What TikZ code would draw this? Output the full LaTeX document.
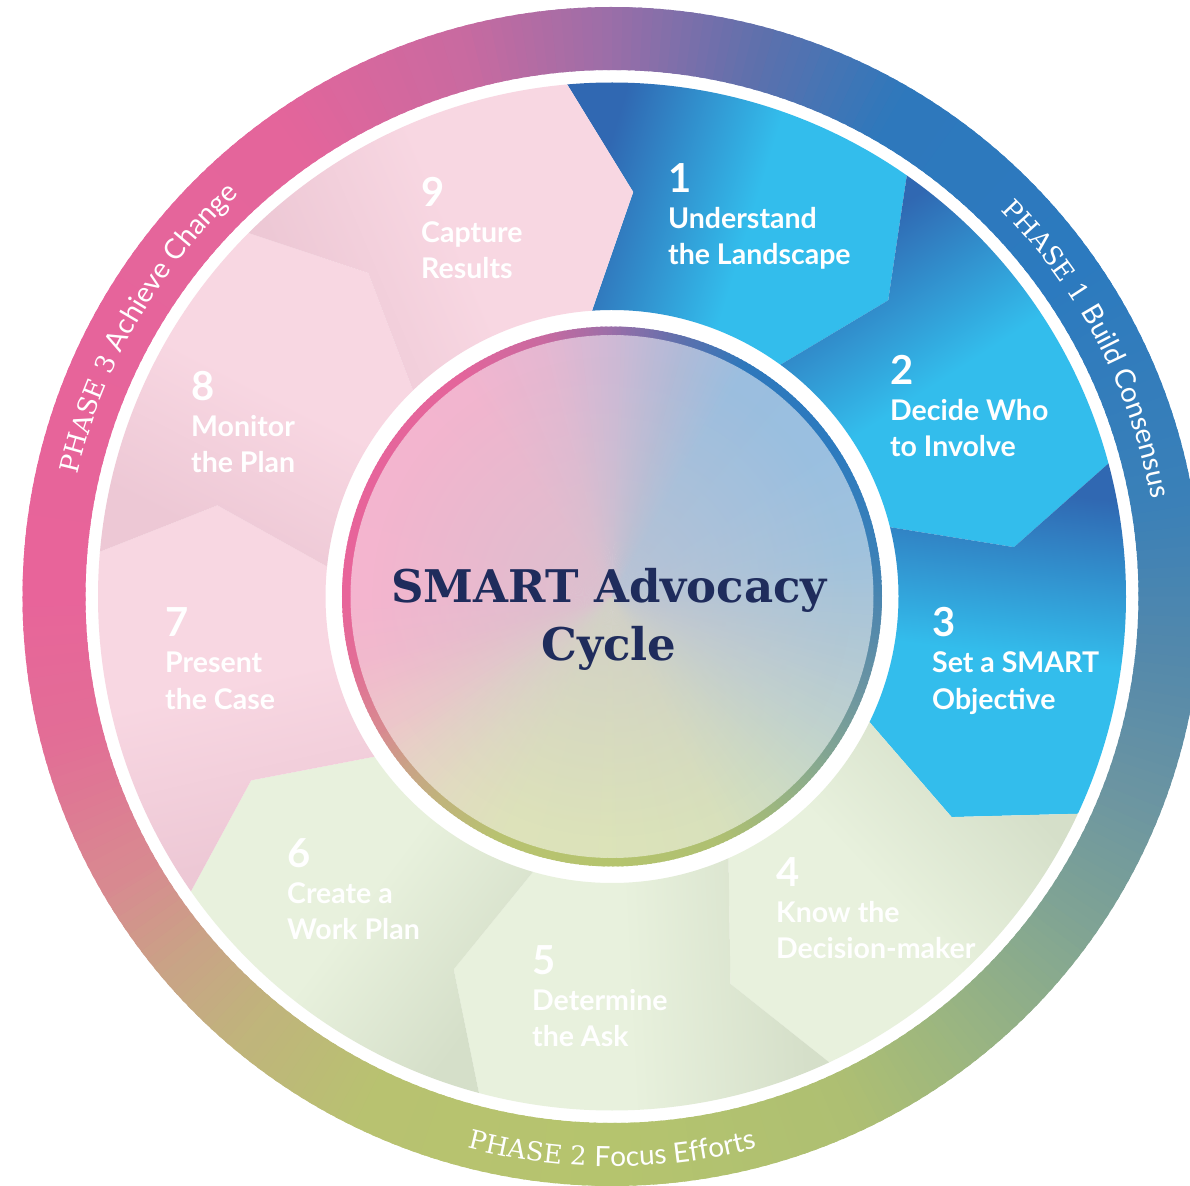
\documentclass[tikz,border=0pt]{standalone}
\usepackage{fontspec}
\setmainfont{Lato}
\newfontfamily\slabfont{DejaVu Serif}
\newfontfamily\labfont{Lato}
\usetikzlibrary{decorations.text,fadings}

\definecolor{navy}{HTML}{1F2C5C}
\definecolor{rA}{HTML}{D88A90}
\definecolor{rB}{HTML}{C9A386}
\definecolor{rC}{HTML}{C0B47C}
\definecolor{rD}{HTML}{B8C270}
\definecolor{rE}{HTML}{B5C46E}
\definecolor{rF}{HTML}{AEBF72}
\definecolor{rG}{HTML}{98B482}
\definecolor{rH}{HTML}{80A494}
\definecolor{rI}{HTML}{6A94A2}
\definecolor{rJ}{HTML}{5288AC}
\definecolor{rK}{HTML}{3A80B8}
\definecolor{rL}{HTML}{2C7ABF}
\definecolor{rM}{HTML}{2E78BC}
\definecolor{rN}{HTML}{5E70AC}
\definecolor{rO}{HTML}{9A6EA8}
\definecolor{rP}{HTML}{C86AA0}
\definecolor{rQ}{HTML}{E4659B}
\definecolor{rR}{HTML}{E8649A}
\definecolor{rS}{HTML}{E26E96}

\definecolor{bdark}{HTML}{3068B2}
\definecolor{blight}{HTML}{33BDEC}
\definecolor{pdark}{HTML}{EDC8D5}
\definecolor{plight}{HTML}{F8D7E2}
\definecolor{gdark}{HTML}{D5DFC9}
\definecolor{glight}{HTML}{E8F1DD}
\definecolor{cmid}{HTML}{CCC6CE}

\pgfdeclarehorizontalshading{bshade}{100bp}{color(0bp)=(bdark); color(28bp)=(bdark); color(52bp)=(blight); color(100bp)=(blight)}
\pgfdeclarehorizontalshading{pshade}{100bp}{color(0bp)=(pdark); color(28bp)=(pdark); color(52bp)=(plight); color(100bp)=(plight)}
\pgfdeclarehorizontalshading{gshade}{100bp}{color(0bp)=(gdark); color(28bp)=(gdark); color(52bp)=(glight); color(100bp)=(glight)}

\tikzfading[name=cfade, inner color=transparent!35, outer color=transparent!100]

\newcommand\phslab{\slabfont\fontsize{26}{26}\selectfont}
\newcommand\phsans{\labfont\fontsize{28}{28}\selectfont}

\newcommand\drawpiece[2]{%
  \pgfmathsetmacro\ta{95-40*(#1-1)}%
  \pgfmathsetmacro\tb{95-40*#1}%
  \pgfmathsetmacro\tam{\ta-8}\pgfmathsetmacro\tbm{\tb-8}%
  \pgfmathsetmacro\tai{\ta-1}\pgfmathsetmacro\tbi{\tb-1}%
  \pgfmathsetmacro\sa{\ta-22-90}%
  \shade[shading=#2, shading angle=\sa] (\ta:514) arc[start angle=\ta, end angle=\tb, radius=514]
    -- (\tbm:405) -- (\tbi:286.5) arc[start angle=\tbi, end angle=\tai, radius=286.5]
    -- (\tam:405) -- cycle;%
}

\tikzset{
  numf/.style={font=\labfont\bfseries\fontsize{40}{40}\selectfont, text=white, inner sep=0pt, anchor=base west},
  labf/.style={font=\labfont\bfseries\fontsize{28.5}{30}\selectfont, text=white, inner sep=0pt, anchor=base west},
  titlef/.style={font=\slabfont\bfseries\fontsize{45}{50}\selectfont, text=navy, inner sep=0pt, anchor=base},
  phasetext/.style={decorate, decoration={text along path, text align=center, text color=white, text={#1}}}
}

\begin{document}
\begin{tikzpicture}[x=1pt,y=1pt]
\useasboundingbox (-612,-588.5) rectangle (578,596.5);
\clip (-612,-588.5) rectangle (578,596.5);
\fill[white] (-612,-588.5) rectangle (578,596.5);

% conic gradients: outer ring, central border, central fill
\foreach \aa/\ab/\ca/\cb in {-150/-140/rA/rB, -140/-130/rB/rC, -130/-115/rC/rD, -115/-90/rD/rE, -90/-65/rE/rF, -65/-50/rF/rG, -50/-35/rG/rH, -35/-20/rH/rI, -20/-5/rI/rJ, -5/10/rJ/rK, 10/35/rK/rL, 35/60/rL/rM, 60/75/rM/rN, 75/90/rN/rO, 90/105/rO/rP, 105/125/rP/rQ, 125/180/rQ/rR, 180/195/rR/rS, 195/210/rS/rA}{
  \pgfmathtruncatemacro\n{abs(\ab-\aa)}
  \foreach \t in {1,...,\n}{
    \pgfmathsetmacro\angA{\aa+(\t-1)*(\ab-\aa)/\n}
    \pgfmathsetmacro\angB{\aa+\t*(\ab-\aa)/\n+0.5}
    \pgfmathtruncatemacro\pc{100-100*(\t-0.5)/\n}
    \fill[\ca!\pc!\cb] (\angA:589.5) arc[start angle=\angA, end angle=\angB, radius=589.5]
      -- (\angB:526.5) arc[start angle=\angB, end angle=\angA, radius=526.5] -- cycle;
    \fill[\ca!\pc!\cb] (\angA:270) arc[start angle=\angA, end angle=\angB, radius=270]
      -- (\angB:261) arc[start angle=\angB, end angle=\angA, radius=261] -- cycle;
    \fill[\ca!\pc!\cb!48!white] (0,0) -- (\angA:261.5) arc[start angle=\angA, end angle=\angB, radius=261.5] -- cycle;
  }
}
\fill[cmid, path fading=cfade] (0,0) circle (240);

% the nine pieces
\drawpiece{1}{bshade}
\drawpiece{2}{bshade}
\drawpiece{3}{bshade}
\drawpiece{4}{gshade}
\drawpiece{5}{gshade}
\drawpiece{6}{gshade}
\drawpiece{7}{pshade}
\drawpiece{8}{pshade}
\drawpiece{9}{pshade}

% phase labels on the ring
\path[phasetext={|\phslab|PHASE 1 |\phsans|Build Consensus}] (62.5:548) arc[start angle=62.5, end angle=-7.5, radius=548];
\path[phasetext={|\phslab|PHASE 3 |\phsans|Achieve Change}] (185:548) arc[start angle=185, end angle=115, radius=548];
\path[phasetext={|\phslab|PHASE 2 |\phsans|Focus Efforts}] (-125:570) arc[start angle=-125, end angle=-55, radius=570];

\begin{scope}[shift={(-612,596.5)}]
% title
\node[titlef] (t1) at (609,-603) {SMART Advocacy};
\node[titlef] (t2) at (609,-660) {Cycle};
% step labels
\node[numf] (n1) at (668,-193) {1};
\node[labf] (a1) at (668,-229) {Understand};
\node[labf] (b1) at (668,-265) {the Landscape};
\node[numf] (n2) at (890,-385) {2};
\node[labf] (a2) at (890,-421) {Decide Who};
\node[labf] (b2) at (890,-457) {to Involve};
\node[numf] (n3) at (932,-637) {3};
\node[labf] (a3) at (932,-673) {Set a SMART};
\node[labf] (b3) at (932,-709) {Objective};
\node[numf] (n4) at (776,-886) {4};
\node[labf] (a4) at (776,-922) {Know the};
\node[labf] (b4) at (776,-958) {Decision-maker};
\node[numf] (n5) at (532,-974) {5};
\node[labf] (a5) at (532,-1010) {Determine};
\node[labf] (b5) at (532,-1046) {the Ask};
\node[numf] (n6) at (287,-867) {6};
\node[labf] (a6) at (287,-903) {Create a};
\node[labf] (b6) at (287,-939) {Work Plan};
\node[numf] (n7) at (165,-637) {7};
\node[labf] (a7) at (165,-673) {Present};
\node[labf] (b7) at (165,-709) {the Case};
\node[numf] (n8) at (191,-401) {8};
\node[labf] (a8) at (191,-437) {Monitor};
\node[labf] (b8) at (191,-473) {the Plan};
\node[numf] (n9) at (421,-207) {9};
\node[labf] (a9) at (421,-243) {Capture};
\node[labf] (b9) at (421,-279) {Results};
\end{scope}
\end{tikzpicture}
\end{document}
